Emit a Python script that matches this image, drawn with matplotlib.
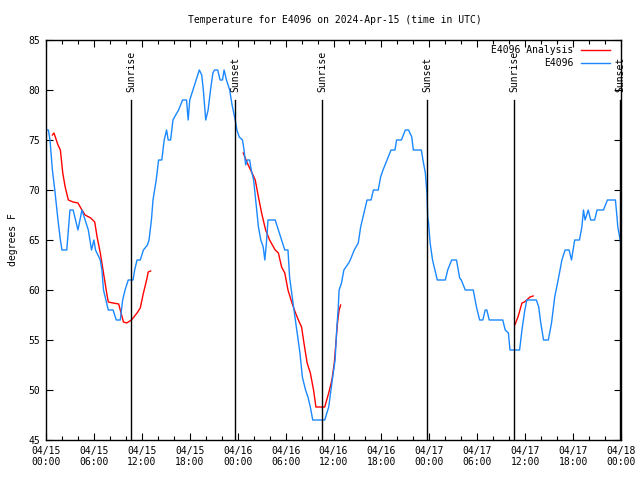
import numpy as np
import matplotlib
matplotlib.use('Agg')
import matplotlib.pyplot as plt
import matplotlib.ticker as mticker

# hours since 2024-04-15 00:00 UTC
obs_hr = [0.0, 0.3, 0.5, 0.8, 1.1, 1.5, 1.8, 2.0, 2.6, 2.8, 3.0, 3.4, 3.7, 4.0, 4.5, 4.9, 5.3, 5.7, 6.0, 6.2,
          6.8, 7.0, 7.2, 7.5, 7.8, 8.4, 8.8, 9.3, 9.6, 9.9, 10.3, 10.9, 11.1, 11.4, 11.8, 12.2, 12.7, 12.9, 13.2, 13.4,
          13.8, 14.1, 14.5, 14.8, 15.1, 15.3, 15.6, 15.9, 16.1, 16.6, 17.1, 17.6, 17.8, 18.0, 18.4, 18.8, 19.2, 19.5, 19.7, 20.0,
          20.3, 20.6, 20.9, 21.1, 21.5, 21.8, 22.1, 22.3, 22.6, 23.0, 23.3, 23.7, 23.9, 24.2, 24.6, 24.8, 25.0, 25.2, 25.5, 25.7,
          26.0, 26.3, 26.6, 26.9, 27.2, 27.4, 27.6, 27.8, 28.7, 29.1, 29.5, 29.9, 30.3, 30.5, 31.0, 31.4, 31.8, 32.1, 32.5, 32.8,
          33.1, 33.4, 34.9, 35.4, 35.8, 36.2, 36.4, 36.6, 36.7, 37.0, 37.3, 37.9, 38.1, 38.6, 39.1, 39.4, 39.7, 40.2, 40.7, 41.0,
          41.6, 41.9, 42.2, 42.7, 43.2, 43.7, 43.9, 44.5, 45.0, 45.4, 45.8, 46.0, 47.0, 47.2, 47.5, 47.7, 47.8, 47.9, 48.1, 48.4,
          48.7, 49.0, 50.0, 50.3, 50.8, 51.4, 51.8, 52.0, 52.5, 53.5, 53.9, 54.3, 54.7, 55.0, 55.2, 55.5, 57.2, 57.5, 57.9, 58.1,
          59.3, 59.6, 59.9, 60.2, 61.4, 61.7, 61.9, 62.3, 62.9, 63.3, 63.7, 64.2, 64.6, 65.0, 65.5, 65.8, 66.2, 66.8, 67.1, 67.3,
          67.5, 67.9, 68.2, 68.7, 69.0, 69.8, 70.3, 71.3, 71.5, 71.6, 71.9, 72.0]
obs_temp = [76, 76, 75, 72, 70, 67, 65, 64, 64, 66, 68, 68, 67, 66, 68, 67, 66, 64, 65, 64,
            63, 62, 60, 59, 58, 58, 57, 57, 59, 60, 61, 61, 62, 63, 63, 64, 64.5, 65, 67, 69,
            71, 73, 73, 75, 76, 75, 75, 77, 77.3, 78, 79, 79, 77, 79, 80, 81, 82, 81.5, 80, 77,
            78, 80, 81.7, 82, 82, 81, 81, 82, 81, 80, 78.5, 77, 76, 75.3, 75, 74, 72.5, 73, 73, 72,
            71, 68.7, 66.3, 65, 64.3, 63, 64.7, 67, 67, 66, 65, 64, 64, 61.3, 58.3, 56, 53.7, 51.3, 50, 49.3,
            48.3, 47, 47, 48.3, 50.7, 53, 56, 58.3, 60, 60.7, 62, 62.7, 63, 64, 64.7, 66.3, 67.3, 69, 69, 70,
            70, 71.3, 72, 73, 74, 74, 75, 75, 76, 76, 75.3, 74, 74, 73, 71.7, 69.7, 67.3, 66.7, 64.7, 63,
            62, 61, 61, 62, 63, 63, 61.2, 61, 60, 60, 58.3, 57, 57, 58, 58, 57, 57, 56, 55.7, 54,
            54, 56, 57.7, 59, 59, 58.3, 57, 55, 55, 56.7, 59.3, 61.3, 63, 64, 64, 63, 65, 65, 66.3, 68,
            67, 68, 67, 67, 68, 68, 69, 69, 67.3, 66.3, 65, 64.5]

ana_hr = [0.8, 1.0, 1.5, 1.8, 2.1, 2.4, 2.8, 3.4, 4.0, 4.5, 4.9, 5.6, 6.1, 6.4, 6.8, 7.2, 7.6, 7.8, 8.4, 9.1,
          9.4, 9.7, 10.1, 10.7, 11.4, 11.8, 12.2, 12.6, 12.8, 13.1, 13.2,
          24.7, 25.2, 25.8, 26.2, 26.6, 27.0, 27.5, 28.0, 28.7, 29.1, 29.5, 29.9, 30.3, 30.8, 31.2, 31.6, 32.0, 32.3, 32.7,
          33.1, 33.5, 33.8, 34.9, 35.4, 35.8, 36.1, 36.3, 36.5, 36.7, 36.9, 37.0,
          58.7, 59.1, 59.6, 59.9, 60.2, 60.6, 61.0]
ana_temp = [75.5, 75.7, 74.5, 74, 71.7, 70.3, 69, 68.8, 68.7, 68, 67.5, 67.2, 66.8, 65.3, 63.7, 61.7, 59.7, 58.8, 58.7, 58.6,
            57.7, 56.8, 56.7, 57, 57.7, 58.2, 59.7, 61, 61.8, 61.9, np.nan,
            73.7, 72.7, 71.7, 71, 69.3, 67.7, 66, 65, 64, 63.7, 62.3, 61.7, 60, 58.7, 57.8, 57, 56.3, 54.7, 52.7,
            51.7, 50, 48.3, 48.3, 49.7, 51, 52.7, 54.7, 56.7, 58, 58.5, np.nan,
            56.5, 57.3, 58.7, 58.8, 59, 59.3, 59.4]

sun_hr = [10.64, 23.67, 34.56, 47.7, 58.6, 71.9]
sun_lbl = ['Sunrise', 'Sunset', 'Sunrise', 'Sunset', 'Sunrise', 'Sunset']

xtick_hr = list(range(0, 73, 6))
xtick_lbl = ['04/15\n00:00', '04/15\n06:00', '04/15\n12:00', '04/15\n18:00',
             '04/16\n00:00', '04/16\n06:00', '04/16\n12:00', '04/16\n18:00',
             '04/17\n00:00', '04/17\n06:00', '04/17\n12:00', '04/17\n18:00',
             '04/18\n00:00']

plt.rcParams['font.family'] = 'DejaVu Sans Mono'
plt.rcParams['font.size'] = 7

fig = plt.figure(figsize=(6.4, 4.8), dpi=100)
ax = fig.add_axes([46/640, 40/480, 575/640, 400/480])

red = '#ff0000'
blue = '#1a88ff'
ax.plot(ana_hr, ana_temp, color=red, lw=1)
ax.plot(obs_hr, obs_temp, color=blue, lw=1)

for h, lbl in zip(sun_hr, sun_lbl):
    ax.plot([h, h], [45, 79], color='black', lw=1)
    ax.text(h, 79.8, lbl, rotation=90, ha='center', va='bottom', fontsize=7)

ax.set_xlim(0, 72)
ax.set_ylim(45, 85)
ax.set_xticks(xtick_hr)
ax.set_xticklabels(xtick_lbl)
ax.xaxis.set_minor_locator(mticker.MultipleLocator(2))
ax.set_yticks(range(45, 86, 5))
ax.tick_params(which='both', direction='in', top=True, right=True, width=0.8)
ax.tick_params(which='major', length=5, pad=4)
ax.tick_params(which='minor', length=3)
for s in ax.spines.values():
    s.set_linewidth(1)

ax.set_ylabel('degrees F', labelpad=8)
fig.text(0.523, 0.958, 'Temperature for E4096 on 2024-Apr-15 (time in UTC)',
         ha='center', va='center', fontsize=7)

# key, text right aligned, sample line to the right
ax.text(0.917, 0.975, 'E4096 Analysis', transform=ax.transAxes, ha='right', va='center')
ax.plot([0.93, 0.98], [0.975, 0.975], transform=ax.transAxes, color=red, lw=1)
ax.text(0.917, 0.942, 'E4096', transform=ax.transAxes, ha='right', va='center')
ax.plot([0.93, 0.98], [0.942, 0.942], transform=ax.transAxes, color=blue, lw=1)

fig.savefig('out.png', dpi=100)
